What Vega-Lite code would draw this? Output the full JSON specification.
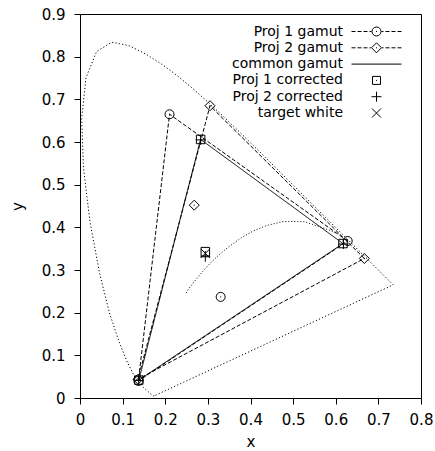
{
  "$schema": "https://vega.github.io/schema/vega-lite/v6.json",
  "width": 341,
  "height": 384,
  "autosize": "none",
  "padding": {"left": 80, "top": 14, "right": 14, "bottom": 53},
  "background": "white",
  "config": {
    "view": {"stroke": "black", "strokeWidth": 1},
    "font": "DejaVu Sans",
    "axis": {
      "grid": false,
      "domain": false,
      "tickColor": "black",
      "tickSize": 6,
      "tickWidth": 1,
      "labelFlush": false,
      "labelFont": "DejaVu Sans",
      "labelFontSize": 15,
      "labelColor": "black",
      "titleFont": "DejaVu Sans",
      "titleFontSize": 15,
      "titleFontWeight": "normal",
      "titleColor": "black"
    }
  },
  "resolve": {"scale": {"shape": "independent"}, "legend": {"shape": "independent"}},
  "datasets": {
    "locus": [
      {"x": 0.1741, "y": 0.0050, "o": 1},
      {"x": 0.1733, "y": 0.0048, "o": 2},
      {"x": 0.1714, "y": 0.0051, "o": 3},
      {"x": 0.1644, "y": 0.0109, "o": 4},
      {"x": 0.1566, "y": 0.0177, "o": 5},
      {"x": 0.1440, "y": 0.0297, "o": 6},
      {"x": 0.1355, "y": 0.0399, "o": 7},
      {"x": 0.1241, "y": 0.0578, "o": 8},
      {"x": 0.1096, "y": 0.0868, "o": 9},
      {"x": 0.0913, "y": 0.1327, "o": 10},
      {"x": 0.0687, "y": 0.2007, "o": 11},
      {"x": 0.0454, "y": 0.2950, "o": 12},
      {"x": 0.0235, "y": 0.4127, "o": 13},
      {"x": 0.0082, "y": 0.5384, "o": 14},
      {"x": 0.0039, "y": 0.6548, "o": 15},
      {"x": 0.0139, "y": 0.7502, "o": 16},
      {"x": 0.0389, "y": 0.8120, "o": 17},
      {"x": 0.0743, "y": 0.8338, "o": 18},
      {"x": 0.1142, "y": 0.8262, "o": 19},
      {"x": 0.1547, "y": 0.8059, "o": 20},
      {"x": 0.1929, "y": 0.7816, "o": 21},
      {"x": 0.2296, "y": 0.7543, "o": 22},
      {"x": 0.2658, "y": 0.7243, "o": 23},
      {"x": 0.3016, "y": 0.6923, "o": 24},
      {"x": 0.3373, "y": 0.6589, "o": 25},
      {"x": 0.3731, "y": 0.6245, "o": 26},
      {"x": 0.4087, "y": 0.5896, "o": 27},
      {"x": 0.4441, "y": 0.5547, "o": 28},
      {"x": 0.4788, "y": 0.5202, "o": 29},
      {"x": 0.5125, "y": 0.4866, "o": 30},
      {"x": 0.5448, "y": 0.4544, "o": 31},
      {"x": 0.5752, "y": 0.4242, "o": 32},
      {"x": 0.6029, "y": 0.3965, "o": 33},
      {"x": 0.6270, "y": 0.3725, "o": 34},
      {"x": 0.6482, "y": 0.3514, "o": 35},
      {"x": 0.6658, "y": 0.3340, "o": 36},
      {"x": 0.6915, "y": 0.3083, "o": 37},
      {"x": 0.7079, "y": 0.2920, "o": 38},
      {"x": 0.7190, "y": 0.2809, "o": 39},
      {"x": 0.7260, "y": 0.2740, "o": 40},
      {"x": 0.7300, "y": 0.2700, "o": 41},
      {"x": 0.7334, "y": 0.2666, "o": 42},
      {"x": 0.7347, "y": 0.2653, "o": 43},
      {"x": 0.1741, "y": 0.0050, "o": 44}
    ],
    "planck": [
      {"x": 0.249, "y": 0.246, "o": 1},
      {"x": 0.2526, "y": 0.2523, "o": 2},
      {"x": 0.2565, "y": 0.2577, "o": 3},
      {"x": 0.2637, "y": 0.2674, "o": 4},
      {"x": 0.2807, "y": 0.2884, "o": 5},
      {"x": 0.2952, "y": 0.3048, "o": 6},
      {"x": 0.3064, "y": 0.3166, "o": 7},
      {"x": 0.3221, "y": 0.3318, "o": 8},
      {"x": 0.3451, "y": 0.3516, "o": 9},
      {"x": 0.3805, "y": 0.3768, "o": 10},
      {"x": 0.4053, "y": 0.3907, "o": 11},
      {"x": 0.4369, "y": 0.4041, "o": 12},
      {"x": 0.4770, "y": 0.4137, "o": 13},
      {"x": 0.5267, "y": 0.4133, "o": 14},
      {"x": 0.5857, "y": 0.3931, "o": 15},
      {"x": 0.600, "y": 0.386, "o": 16}
    ],
    "gamut": [
      {"set": "Proj 1 gamut", "x": 0.628, "y": 0.368, "o": 1},
      {"set": "Proj 1 gamut", "x": 0.210, "y": 0.665, "o": 2},
      {"set": "Proj 1 gamut", "x": 0.137, "y": 0.040, "o": 3},
      {"set": "Proj 1 gamut", "x": 0.628, "y": 0.368, "o": 4},
      {"set": "Proj 2 gamut", "x": 0.667, "y": 0.327, "o": 1},
      {"set": "Proj 2 gamut", "x": 0.305, "y": 0.685, "o": 2},
      {"set": "Proj 2 gamut", "x": 0.136, "y": 0.044, "o": 3},
      {"set": "Proj 2 gamut", "x": 0.667, "y": 0.327, "o": 4},
      {"set": "common gamut", "x": 0.617, "y": 0.362, "o": 1},
      {"set": "common gamut", "x": 0.283, "y": 0.606, "o": 2},
      {"set": "common gamut", "x": 0.138, "y": 0.042, "o": 3},
      {"set": "common gamut", "x": 0.617, "y": 0.362, "o": 4}
    ],
    "points": [
      {"set": "Proj 1 gamut", "x": 0.628, "y": 0.368},
      {"set": "Proj 1 gamut", "x": 0.210, "y": 0.665},
      {"set": "Proj 1 gamut", "x": 0.137, "y": 0.040},
      {"set": "Proj 1 gamut", "x": 0.330, "y": 0.237},
      {"set": "Proj 2 gamut", "x": 0.667, "y": 0.327},
      {"set": "Proj 2 gamut", "x": 0.305, "y": 0.685},
      {"set": "Proj 2 gamut", "x": 0.136, "y": 0.044},
      {"set": "Proj 2 gamut", "x": 0.268, "y": 0.452},
      {"set": "Proj 1 corrected", "x": 0.617, "y": 0.362},
      {"set": "Proj 1 corrected", "x": 0.283, "y": 0.606},
      {"set": "Proj 1 corrected", "x": 0.138, "y": 0.042},
      {"set": "Proj 1 corrected", "x": 0.294, "y": 0.343},
      {"set": "Proj 2 corrected", "x": 0.618, "y": 0.361},
      {"set": "Proj 2 corrected", "x": 0.283, "y": 0.605},
      {"set": "Proj 2 corrected", "x": 0.138, "y": 0.041},
      {"set": "Proj 2 corrected", "x": 0.294, "y": 0.331},
      {"set": "target white", "x": 0.294, "y": 0.339}
    ]
  },
  "encoding": {
    "x": {
      "field": "x", "type": "quantitative", "title": "x",
      "scale": {"domain": [0, 0.8], "nice": false, "zero": false},
      "axis": {"values": [0, 0.1, 0.2, 0.3, 0.4, 0.5, 0.6, 0.7, 0.8], "format": ".1~f", "labelPadding": 8, "titlePadding": 7}
    },
    "y": {
      "field": "y", "type": "quantitative", "title": "y",
      "scale": {"domain": [0, 0.9], "nice": false, "zero": false},
      "axis": {"values": [0, 0.1, 0.2, 0.3, 0.4, 0.5, 0.6, 0.7, 0.8, 0.9], "format": ".1~f", "labelPadding": 9, "titlePadding": 16}
    }
  },
  "layer": [
    {
      "data": {"name": "locus"},
      "mark": {"type": "line", "color": "black", "strokeWidth": 1, "strokeDash": [1.2, 2.2]},
      "encoding": {"order": {"field": "o", "type": "quantitative"}}
    },
    {
      "data": {"name": "planck"},
      "mark": {"type": "line", "color": "black", "strokeWidth": 1, "strokeDash": [1, 2]},
      "encoding": {"order": {"field": "o", "type": "quantitative"}}
    },
    {
      "data": {"name": "gamut"},
      "mark": {"type": "line", "color": "black", "strokeWidth": 1},
      "encoding": {
        "order": {"field": "o", "type": "quantitative"},
        "detail": {"field": "set", "type": "nominal"},
        "strokeDash": {
          "field": "set", "type": "nominal",
          "scale": {"domain": ["Proj 1 gamut", "Proj 2 gamut", "common gamut"], "range": [[4, 2], [4, 2], [1, 0]]},
          "legend": null
        }
      }
    },
    {
      "data": {"name": "points"},
      "mark": {"type": "point", "filled": false, "color": "black", "size": 100, "strokeWidth": 1, "opacity": 1},
      "encoding": {
        "shape": {
          "field": "set", "type": "nominal",
          "scale": {
            "domain": ["Proj 1 gamut", "Proj 2 gamut", "Proj 1 corrected", "Proj 2 corrected", "target white"],
            "range": [
              "M-0.9,0A0.9,0.9,0,1,0,0.9,0A0.9,0.9,0,1,0,-0.9,0M-0.1,0H0.1",
              "M0,-1L1,0L0,1L-1,0ZM-0.1,0H0.1",
              "M-0.85,-0.85H0.85V0.85H-0.85ZM-0.1,0H0.1",
              "M-1,0H1M0,-1V1",
              "M-0.9,-0.9L0.9,0.9M-0.9,0.9L0.9,-0.9"
            ]
          },
          "legend": null
        }
      }
    },
    {
      "data": {"name": "points"},
      "mark": {"type": "point", "filled": false, "color": "black", "size": 196, "strokeWidth": 1, "opacity": 0},
      "encoding": {
        "shape": {
          "field": "set", "type": "nominal",
          "scale": {
            "domain": ["Proj 1 gamut", "Proj 2 gamut", "common gamut", "Proj 1 corrected", "Proj 2 corrected", "target white"],
            "range": [
              "M-3.571,0H-3M-2.714,0H-2.143M-1.857,0H-1.286M-1,0H-0.714M0.714,0H1M1.286,0H1.857M2.143,0H2.714M3,0H3.571M-0.643,0A0.643,0.643,0,1,0,0.643,0A0.643,0.643,0,1,0,-0.643,0M-0.07,0H0.07",
              "M-3.571,0H-3M-2.714,0H-2.143M-1.857,0H-1.286M-1,0H-0.786M0.786,0H1M1.286,0H1.857M2.143,0H2.714M3,0H3.571M0,-0.714L0.714,0L0,0.714L-0.714,0ZM-0.07,0H0.07",
              "M-3.571,0H3.571",
              "M-0.571,-0.571H0.571V0.571H-0.571ZM-0.07,0H0.07",
              "M-0.714,0H0.714M0,-0.714V0.714",
              "M-0.643,-0.643L0.643,0.643M-0.643,0.643L0.643,-0.643"
            ]
          },
          "legend": {
            "orient": "none",
            "legendX": 289,
            "legendY": 10,
            "direction": "vertical",
            "title": null,
            "padding": 0,
            "labelAlign": "right",
            "labelOffset": -41,
            "labelFont": "DejaVu Sans",
            "labelFontSize": 14,
            "labelColor": "black",
            "labelLimit": 200,
            "rowPadding": 1.3,
            "symbolSize": 196,
            "symbolStrokeWidth": 1,
            "symbolStrokeColor": "black",
            "symbolFillColor": "transparent",
            "symbolOpacity": 1,
            "encode": {
              "symbols": {
                "update": {
                  "opacity": {"value": 1},
                  "size": {"value": 196},
                  "strokeWidth": {"value": 1},
                  "stroke": {"value": "black"},
                  "fill": {"value": "transparent"}
                }
              }
            }
          }
        }
      }
    }
  ]
}
